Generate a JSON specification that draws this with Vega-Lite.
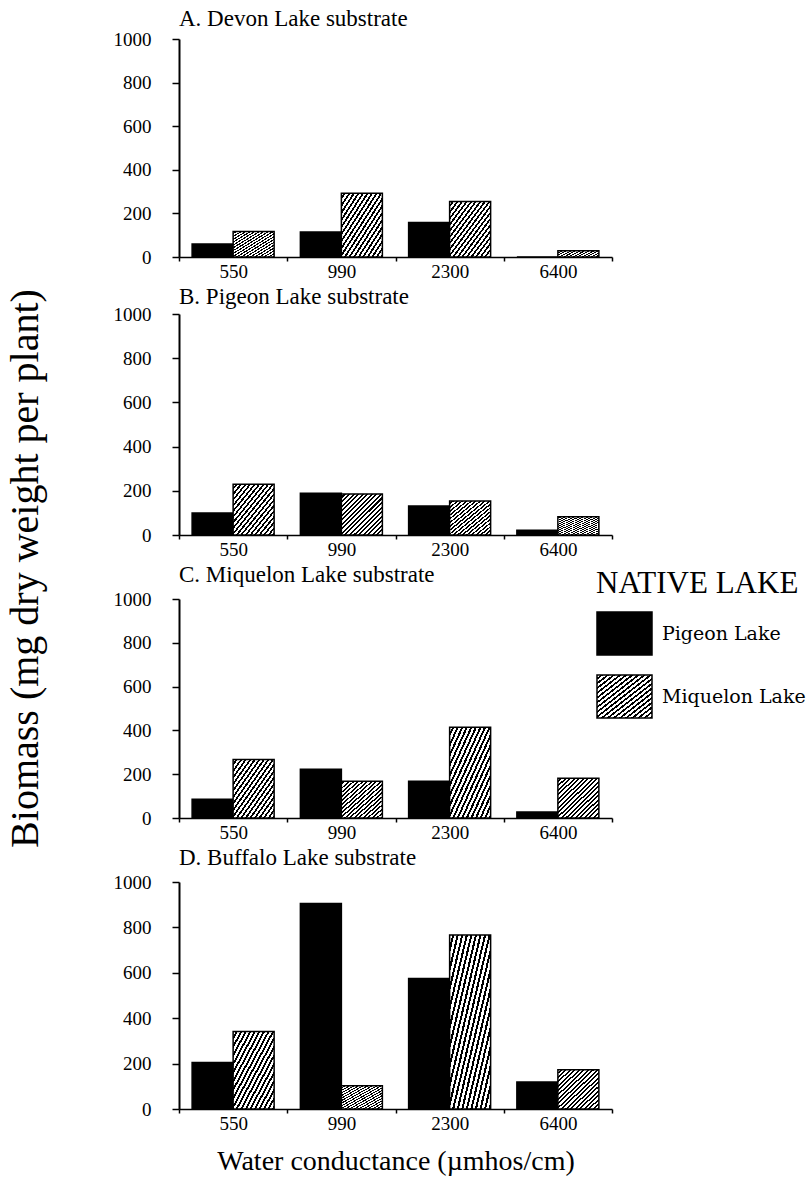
{
  "$schema": "https://vega.github.io/schema/vega-lite/v6.json",
  "padding": {"left": 5, "top": 8, "right": 0, "bottom": 5},
  "background": "white",
  "params": [
    {"name": "hatch", "expr": "{gradient: 'linear', x1: 0, y1: 0, x2: 1, y2: 1, stops: [{offset:0,color:'white'},{offset:0.0306,color:'white'},{offset:0.0306,color:'black'},{offset:0.0556,color:'black'},{offset:0.0556,color:'white'},{offset:0.0861,color:'white'},{offset:0.0861,color:'black'},{offset:0.1111,color:'black'},{offset:0.1111,color:'white'},{offset:0.1417,color:'white'},{offset:0.1417,color:'black'},{offset:0.1667,color:'black'},{offset:0.1667,color:'white'},{offset:0.1972,color:'white'},{offset:0.1972,color:'black'},{offset:0.2222,color:'black'},{offset:0.2222,color:'white'},{offset:0.2528,color:'white'},{offset:0.2528,color:'black'},{offset:0.2778,color:'black'},{offset:0.2778,color:'white'},{offset:0.3083,color:'white'},{offset:0.3083,color:'black'},{offset:0.3333,color:'black'},{offset:0.3333,color:'white'},{offset:0.3639,color:'white'},{offset:0.3639,color:'black'},{offset:0.3889,color:'black'},{offset:0.3889,color:'white'},{offset:0.4194,color:'white'},{offset:0.4194,color:'black'},{offset:0.4444,color:'black'},{offset:0.4444,color:'white'},{offset:0.475,color:'white'},{offset:0.475,color:'black'},{offset:0.5,color:'black'},{offset:0.5,color:'white'},{offset:0.5306,color:'white'},{offset:0.5306,color:'black'},{offset:0.5556,color:'black'},{offset:0.5556,color:'white'},{offset:0.5861,color:'white'},{offset:0.5861,color:'black'},{offset:0.6111,color:'black'},{offset:0.6111,color:'white'},{offset:0.6417,color:'white'},{offset:0.6417,color:'black'},{offset:0.6667,color:'black'},{offset:0.6667,color:'white'},{offset:0.6972,color:'white'},{offset:0.6972,color:'black'},{offset:0.7222,color:'black'},{offset:0.7222,color:'white'},{offset:0.7528,color:'white'},{offset:0.7528,color:'black'},{offset:0.7778,color:'black'},{offset:0.7778,color:'white'},{offset:0.8083,color:'white'},{offset:0.8083,color:'black'},{offset:0.8333,color:'black'},{offset:0.8333,color:'white'},{offset:0.8639,color:'white'},{offset:0.8639,color:'black'},{offset:0.8889,color:'black'},{offset:0.8889,color:'white'},{offset:0.9194,color:'white'},{offset:0.9194,color:'black'},{offset:0.9444,color:'black'},{offset:0.9444,color:'white'},{offset:0.975,color:'white'},{offset:0.975,color:'black'},{offset:1,color:'black'}]}"}
  ],
  "config": {
    "view": {"stroke": null},
    "font": "Liberation Serif",
    "axis": {"domainColor": "black", "tickColor": "black", "labelColor": "black", "labelFont": "Liberation Serif", "labelFontSize": 19, "grid": false, "titleFont": "Liberation Serif", "titleFontWeight": "normal", "titleColor": "black"},
    "axisX": {"labelAngle": 0, "tickSize": 4, "labelPadding": 1, "domainWidth": 1.5, "tickWidth": 1.5},
    "axisY": {"tickSize": 7, "labelPadding": 21, "domainWidth": 2, "tickWidth": 1.5, "format": "d"},
    "title": {"font": "Liberation Serif", "fontWeight": "normal", "color": "black"}
  },
  "title": {"text": "Biomass (mg dry weight per plant)", "orient": "left", "anchor": "middle", "fontSize": 40, "offset": 67, "dx": 23},
  "datasets": {
    "biomass": [
      {"substrate": "Devon", "conductance": "550", "lake": "Pigeon Lake", "biomass": 60},
      {"substrate": "Devon", "conductance": "550", "lake": "Miquelon Lake", "biomass": 117},
      {"substrate": "Devon", "conductance": "990", "lake": "Pigeon Lake", "biomass": 115},
      {"substrate": "Devon", "conductance": "990", "lake": "Miquelon Lake", "biomass": 293},
      {"substrate": "Devon", "conductance": "2300", "lake": "Pigeon Lake", "biomass": 158},
      {"substrate": "Devon", "conductance": "2300", "lake": "Miquelon Lake", "biomass": 255},
      {"substrate": "Devon", "conductance": "6400", "lake": "Pigeon Lake", "biomass": 0},
      {"substrate": "Devon", "conductance": "6400", "lake": "Miquelon Lake", "biomass": 29},
      {"substrate": "Pigeon", "conductance": "550", "lake": "Pigeon Lake", "biomass": 100},
      {"substrate": "Pigeon", "conductance": "550", "lake": "Miquelon Lake", "biomass": 230},
      {"substrate": "Pigeon", "conductance": "990", "lake": "Pigeon Lake", "biomass": 189},
      {"substrate": "Pigeon", "conductance": "990", "lake": "Miquelon Lake", "biomass": 185},
      {"substrate": "Pigeon", "conductance": "2300", "lake": "Pigeon Lake", "biomass": 131},
      {"substrate": "Pigeon", "conductance": "2300", "lake": "Miquelon Lake", "biomass": 154},
      {"substrate": "Pigeon", "conductance": "6400", "lake": "Pigeon Lake", "biomass": 22},
      {"substrate": "Pigeon", "conductance": "6400", "lake": "Miquelon Lake", "biomass": 83},
      {"substrate": "Miquelon", "conductance": "550", "lake": "Pigeon Lake", "biomass": 86},
      {"substrate": "Miquelon", "conductance": "550", "lake": "Miquelon Lake", "biomass": 267},
      {"substrate": "Miquelon", "conductance": "990", "lake": "Pigeon Lake", "biomass": 223},
      {"substrate": "Miquelon", "conductance": "990", "lake": "Miquelon Lake", "biomass": 168},
      {"substrate": "Miquelon", "conductance": "2300", "lake": "Pigeon Lake", "biomass": 168},
      {"substrate": "Miquelon", "conductance": "2300", "lake": "Miquelon Lake", "biomass": 414},
      {"substrate": "Miquelon", "conductance": "6400", "lake": "Pigeon Lake", "biomass": 27},
      {"substrate": "Miquelon", "conductance": "6400", "lake": "Miquelon Lake", "biomass": 182},
      {"substrate": "Buffalo", "conductance": "550", "lake": "Pigeon Lake", "biomass": 205},
      {"substrate": "Buffalo", "conductance": "550", "lake": "Miquelon Lake", "biomass": 341},
      {"substrate": "Buffalo", "conductance": "990", "lake": "Pigeon Lake", "biomass": 905},
      {"substrate": "Buffalo", "conductance": "990", "lake": "Miquelon Lake", "biomass": 102},
      {"substrate": "Buffalo", "conductance": "2300", "lake": "Pigeon Lake", "biomass": 575},
      {"substrate": "Buffalo", "conductance": "2300", "lake": "Miquelon Lake", "biomass": 766},
      {"substrate": "Buffalo", "conductance": "6400", "lake": "Pigeon Lake", "biomass": 119},
      {"substrate": "Buffalo", "conductance": "6400", "lake": "Miquelon Lake", "biomass": 173}
    ]
  },
  "spacing": 5,
  "resolve": {"scale": {"fill": "independent"}, "legend": {"fill": "independent"}},
  "vconcat": [
    {
      "title": {"text": "A. Devon Lake substrate", "anchor": "start", "frame": "group", "fontSize": 23, "baseline": "alphabetic", "offset": -19},
      "width": 433, "height": 218,
      "data": {"name": "biomass"},
      "transform": [{"filter": "datum.substrate === 'Devon'"}],
      "mark": {"type": "bar", "stroke": "black", "strokeWidth": 1.5},
      "encoding": {
        "x": {"field": "conductance", "type": "ordinal", "sort": ["550", "990", "2300", "6400"], "scale": {"paddingInner": 0, "paddingOuter": 0}, "axis": {"title": null, "tickBand": "extent"}},
        "xOffset": {"field": "lake", "type": "nominal", "sort": ["Pigeon Lake", "Miquelon Lake"], "scale": {"paddingInner": 0, "paddingOuter": 0.32}},
        "y": {"field": "biomass", "type": "quantitative", "scale": {"domain": [0, 1000]}, "axis": {"title": null, "values": [0, 200, 400, 600, 800, 1000]}},
        "fill": {"field": "lake", "type": "nominal", "scale": {"domain": ["Pigeon Lake", "Miquelon Lake"], "range": ["black", {"expr": "hatch"}]}, "legend": null}
      }
    },
    {
      "title": {"text": "B. Pigeon Lake substrate", "anchor": "start", "frame": "group", "fontSize": 23, "baseline": "alphabetic", "offset": -22},
      "width": 433, "height": 221,
      "data": {"name": "biomass"},
      "transform": [{"filter": "datum.substrate === 'Pigeon'"}],
      "mark": {"type": "bar", "stroke": "black", "strokeWidth": 1.5},
      "encoding": {
        "x": {"field": "conductance", "type": "ordinal", "sort": ["550", "990", "2300", "6400"], "scale": {"paddingInner": 0, "paddingOuter": 0}, "axis": {"title": null, "tickBand": "extent"}},
        "xOffset": {"field": "lake", "type": "nominal", "sort": ["Pigeon Lake", "Miquelon Lake"], "scale": {"paddingInner": 0, "paddingOuter": 0.32}},
        "y": {"field": "biomass", "type": "quantitative", "scale": {"domain": [0, 1000]}, "axis": {"title": null, "values": [0, 200, 400, 600, 800, 1000]}},
        "fill": {"field": "lake", "type": "nominal", "scale": {"domain": ["Pigeon Lake", "Miquelon Lake"], "range": ["black", {"expr": "hatch"}]}, "legend": null}
      }
    },
    {
      "title": {"text": "C. Miquelon Lake substrate", "anchor": "start", "frame": "group", "fontSize": 23, "baseline": "alphabetic", "offset": -36},
      "width": 433, "height": 219,
      "data": {"name": "biomass"},
      "transform": [{"filter": "datum.substrate === 'Miquelon'"}],
      "mark": {"type": "bar", "stroke": "black", "strokeWidth": 1.5},
      "encoding": {
        "x": {"field": "conductance", "type": "ordinal", "sort": ["550", "990", "2300", "6400"], "scale": {"paddingInner": 0, "paddingOuter": 0}, "axis": {"title": null, "tickBand": "extent"}},
        "xOffset": {"field": "lake", "type": "nominal", "sort": ["Pigeon Lake", "Miquelon Lake"], "scale": {"paddingInner": 0, "paddingOuter": 0.32}},
        "y": {"field": "biomass", "type": "quantitative", "scale": {"domain": [0, 1000]}, "axis": {"title": null, "values": [0, 200, 400, 600, 800, 1000]}},
        "fill": {"field": "lake", "type": "nominal", "scale": {"domain": ["Pigeon Lake", "Miquelon Lake"], "range": ["black", {"expr": "hatch"}]},
          "legend": {"title": "NATIVE LAKE", "orient": "none", "legendX": 417, "legendY": -30, "titleFont": "Liberation Serif", "titleFontSize": 31, "titleFontWeight": "normal", "titleColor": "black", "titlePadding": 5, "labelFont": "DejaVu Serif", "labelFontSize": 19, "labelColor": "black", "labelOffset": 9, "symbolType": "M-1,-0.78H1V0.78H-1Z", "symbolSize": 3025, "symbolStrokeColor": "black", "symbolStrokeWidth": 1.5, "rowPadding": 10, "titleLimit": 400, "labelLimit": 400}}
      }
    },
    {
      "title": {"text": "D. Buffalo Lake substrate", "anchor": "start", "frame": "group", "fontSize": 23, "baseline": "alphabetic", "offset": -15},
      "width": 433, "height": 227,
      "data": {"name": "biomass"},
      "transform": [{"filter": "datum.substrate === 'Buffalo'"}],
      "mark": {"type": "bar", "stroke": "black", "strokeWidth": 1.5},
      "encoding": {
        "x": {"field": "conductance", "type": "ordinal", "sort": ["550", "990", "2300", "6400"], "scale": {"paddingInner": 0, "paddingOuter": 0}, "axis": {"title": "Water conductance (µmhos/cm)", "titleFontSize": 28, "titlePadding": 14, "tickBand": "extent"}},
        "xOffset": {"field": "lake", "type": "nominal", "sort": ["Pigeon Lake", "Miquelon Lake"], "scale": {"paddingInner": 0, "paddingOuter": 0.32}},
        "y": {"field": "biomass", "type": "quantitative", "scale": {"domain": [0, 1000]}, "axis": {"title": null, "values": [0, 200, 400, 600, 800, 1000]}},
        "fill": {"field": "lake", "type": "nominal", "scale": {"domain": ["Pigeon Lake", "Miquelon Lake"], "range": ["black", {"expr": "hatch"}]}, "legend": null}
      }
    }
  ]
}
